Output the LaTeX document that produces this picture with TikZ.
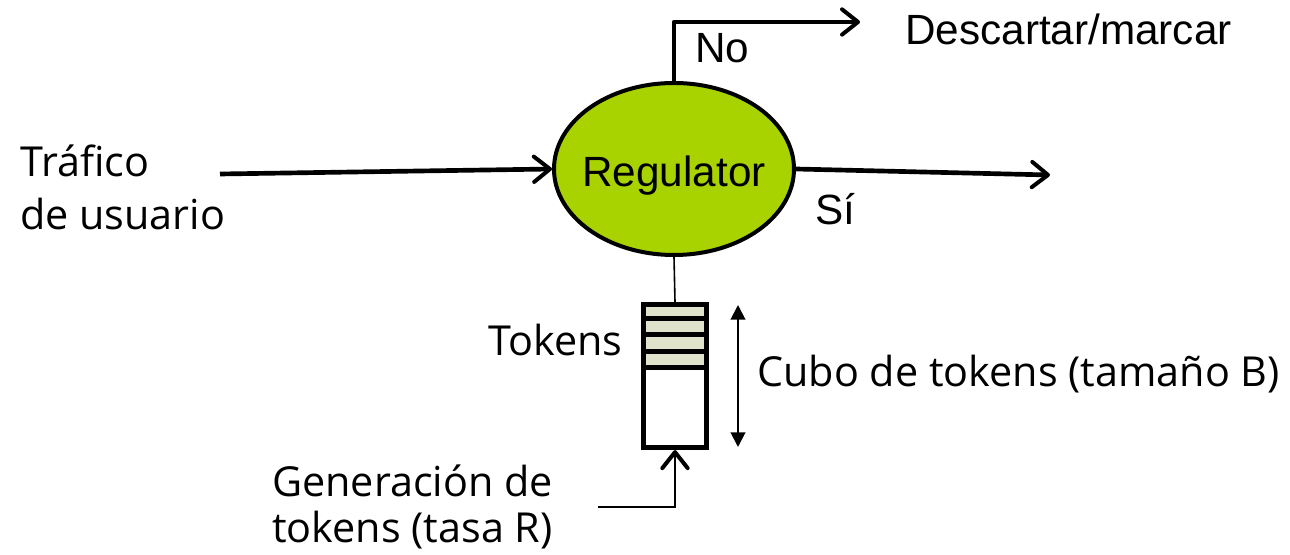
\documentclass[tikz,border=0pt]{standalone}
\usepackage{fontspec}
\setmainfont{Liberation Sans}
\newfontfamily\handfont{Open Sans}
\usetikzlibrary{shapes.geometric,arrows.meta}
\definecolor{regfill}{RGB}{168,210,0}
\definecolor{tokenfill}{RGB}{224,227,203}

\tikzset{
  flowline/.style={line width=3.5pt},
  thinline/.style={line width=1.2pt},
  barb/.style={-{Straight Barb[length=12pt,width=19pt,line width=3pt,round]}},
  sizetip/.style={{Triangle[length=11pt,width=11pt]}-{Triangle[length=11pt,width=11pt]}},
  armtext/.style={inner sep=0pt,font=\fontsize{31.7}{38}\selectfont},
  handtext/.style={inner sep=0pt,align=left,font=\handfont\fontsize{31}{39.75}\selectfont}
}

\begin{document}
\begin{tikzpicture}[x=0.75pt,y=0.75pt,yscale=-1,xscale=1]
		\useasboundingbox (0,0) rectangle (1290,555);
		
		% Regulator
		\node (reg) [ellipse,draw,fill=regfill,line width=3pt,minimum width=180pt,minimum height=129pt,inner sep=0pt] at (674,169) {};
		\node (regtxt) [armtext,anchor=base] at (674,187) {Regulator};
		
		% Bucket with tokens
		\fill [tokenfill] (641,302) rectangle (709,370);
		\foreach \k in {1,...,4}
		\draw [line width=3.75pt] (641,{302+16.5*\k}) -- (709,{302+16.5*\k});
		\node (bucket) [draw,line width=4.2pt,minimum width=47pt,minimum height=107pt,inner sep=0pt] at (675,376) {};
		
		% Free ends
		\coordinate (usrin) at (220,174);
		\coordinate (siout) at (1050,175);
		\coordinate (noout) at (860,22);
		\coordinate (genin) at (598,507);
		\coordinate (sizetop) at (738,305);
		\coordinate (sizebot) at (738,447);
		
		%Straight Lines
		\draw [flowline,barb] (usrin) -- (reg.west);
		\draw [flowline,barb] (reg.east) -- (siout);
		\draw [flowline,barb,line join=round] (reg.north) |- (noout);
		\draw [thinline] (reg.south) -- (bucket.north);
		\draw [thinline,barb] (genin) -| (bucket.south);
		\draw [line width=1.5pt,sizetip] (sizetop) -- (sizebot);
		
		% Text Node
		\node (usr) [handtext,anchor=base west] at (20,230) {Tráfico\\de usuario};
		% Text Node
		\node (tok) [handtext,anchor=base west] at (488,356) {Tokens};
		% Text Node
		\node (cubo) [handtext,anchor=base west] at (757,387) {Cubo de tokens (tamaño B)};
		% Text Node
		\node (gen) [handtext,anchor=base west,font=\handfont\fontsize{31}{34.5}\selectfont] at (272,543) {Generación de\\tokens (tasa R)};
		% Text Node
		\node (desc) [armtext,anchor=base west] at (905,45) {Descartar/marcar};
		% Text Node
		\node (no) [armtext,anchor=base west] at (695,63) {No};
		% Text Node
		\node (si) [armtext,anchor=base west] at (815,225) {Sí};
		
\end{tikzpicture}
\end{document}
